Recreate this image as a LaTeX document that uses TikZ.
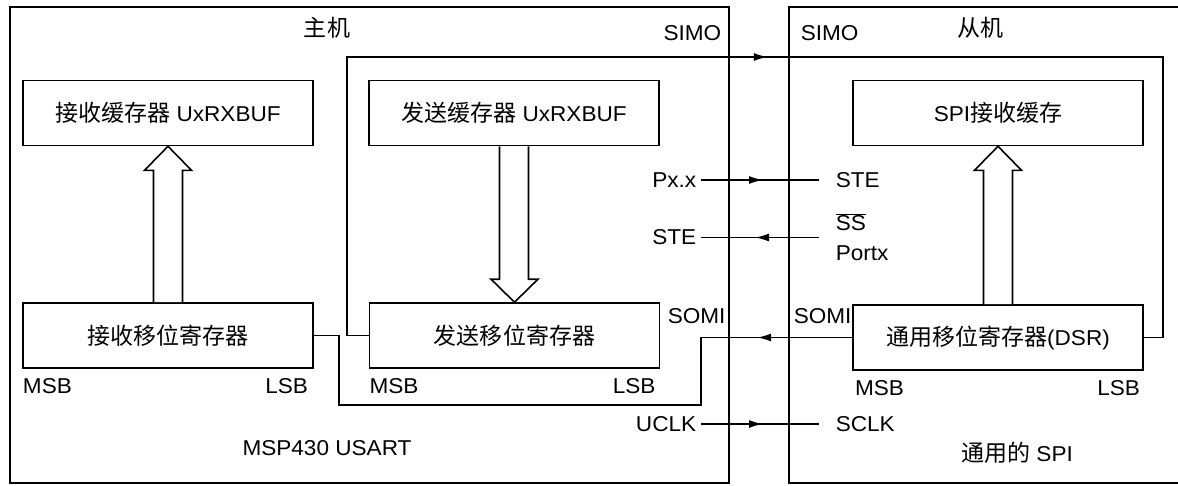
\documentclass[tikz,border=0pt]{standalone}
\usepackage{fontspec}
\setmainfont{Liberation Sans}[FakeStretch=1.05]
\newfontfamily\cjk{Noto Sans CJK SC}[Scale=1.07]
\usetikzlibrary{arrows.meta,decorations.markings,calc}
\begin{document}
\begin{tikzpicture}[x=1pt,y=-1pt,line width=1.6pt,
  every node/.style={font=\fontsize{21.5}{24}\selectfont,inner sep=0pt},
  regbox/.style={draw,minimum width=290pt,minimum height=65pt},
  hlabel/.style={anchor=east,inner xsep=4pt},
  slabel/.style={anchor=west},
  hollow/.style={draw,line width=1.6pt,fill=white,line join=miter},
  marr/.style={postaction={decorate},decoration={markings,mark=at position #1 with {\arrow{Latex[length=14pt,width=8pt]}}}}]
\useasboundingbox (0,0) rectangle (1178,485);
\fill[white] (0,0) rectangle (1178,485);

% host frame
\node[draw,minimum width=719pt,minimum height=476pt] (host) at (369.5,245) {};
% slave frame (open on the right)
\coordinate (sTL) at (789,7);
\coordinate (sBL) at (789,483);
\coordinate (sTR) at (1182,7);
\coordinate (sBR) at (1182,483);
\draw (sTR) -- (sTL) -- (sBL) -- (sBR);

% registers
\node[regbox] (rrb) at (168,113) {{\cjk 接收缓存器} UxRXBUF};
\node[regbox] (trb) at (514,113) {{\cjk 发送缓存器} UxRXBUF};
\node[regbox] (srb) at (998,113) {SPI{\cjk 接收缓存}};
\node[regbox] (rsr) at (168,335.5) {\cjk 接收移位寄存器};
\node[regbox] (tsr) at (514.5,335.5) {\cjk 发送移位寄存器};
\node[regbox] (dsr) at (998,337.5) {{\cjk 通用移位寄存器}(DSR)};

% MSB / LSB
\node[anchor=north west] (m1) at ($(rsr.south west)+(0,9)$) {MSB};
\node[anchor=north east] (l1) at ($(rsr.south east)+(-5,9)$) {LSB};
\node[anchor=north west] (m2) at ($(tsr.south west)+(0,9)$) {MSB};
\node[anchor=north east] (l2) at ($(tsr.south east)+(-4,9)$) {LSB};
\node[anchor=north west] (m3) at ($(dsr.south west)+(2,9)$) {MSB};
\node[anchor=north east] (l3) at ($(dsr.south east)+(-3,9)$) {LSB};

% hollow arrows
\draw[hollow] ($(rsr.north)+(-14.5,0)$) |- ($(rrb.south)+(-23.5,24)$) -- (rrb.south) -- ($(rrb.south)+(23.5,24)$) -| ($(rsr.north)+(14.5,0)$);
\draw[hollow] ($(trb.south)+(-14.5,0)$) |- ($(tsr.north)+(-23.5,-23)$) -- (tsr.north) -- ($(tsr.north)+(23.5,-23)$) -| ($(trb.south)+(14.5,0)$);
\draw[hollow] ($(dsr.north)+(-14.5,0)$) |- ($(srb.south)+(-23.5,24)$) -- (srb.south) -- ($(srb.south)+(23.5,24)$) -| ($(dsr.north)+(14.5,0)$);

% titles
\node (zhuji) at (327,28) {\cjk 主机};
\node (congji) at (980,28) {\cjk 从机};
\node (usart) at (327,448) {MSP430 USART};
\node (gspi) at (1017,453) {{\cjk 通用的} SPI};

% pin labels
\node[anchor=east] (simoH) at (722,33) {SIMO};
\node[slabel] (simoS) at (800,33) {SIMO};
\node[anchor=west] (somiH) at (667,316) {SOMI};
\node[slabel] (somiS) at (793,316) {SOMI};
\node[hlabel] (pxx) at (701,180) {Px.x};
\node[slabel] (steS) at (835,180) {STE};
\node[hlabel] (steH) at (701,237.5) {STE};
\node[slabel] (ss) at (835,222) {$\overline{\mbox{SS}}$};
\node[slabel] (portx) at (835,253) {Portx};
\node[hlabel] (uclk) at (701,424) {UCLK};
\node[slabel] (sclk) at (835,424) {SCLK};

% connector ends
\coordinate (simoL) at (347,57);
\coordinate (simoR) at (1163,57);
\coordinate (sA) at (701,337.5);
\coordinate (sB) at (339,405);
\coordinate (pxxE) at (819,180);
\coordinate (ssE) at (819,237.5);
\coordinate (sclkE) at (819,424);

% SIMO
\draw[marr=721pt] (tsr.west) -| (simoL) -- (simoR) |- (dsr.east);
% SOMI
\draw[marr=95pt] (dsr.west) -- (sA) |- (sB) |- (rsr.east);
% Px.x -> STE
\draw[marr=62pt] (pxx.east) -- (pxxE);
% SS -> STE
\draw[marr=64pt] (ssE) -- (steH.east);
% UCLK -> SCLK
\draw[marr=62pt] (uclk.east) -- (sclkE);
\end{tikzpicture}
\end{document}
